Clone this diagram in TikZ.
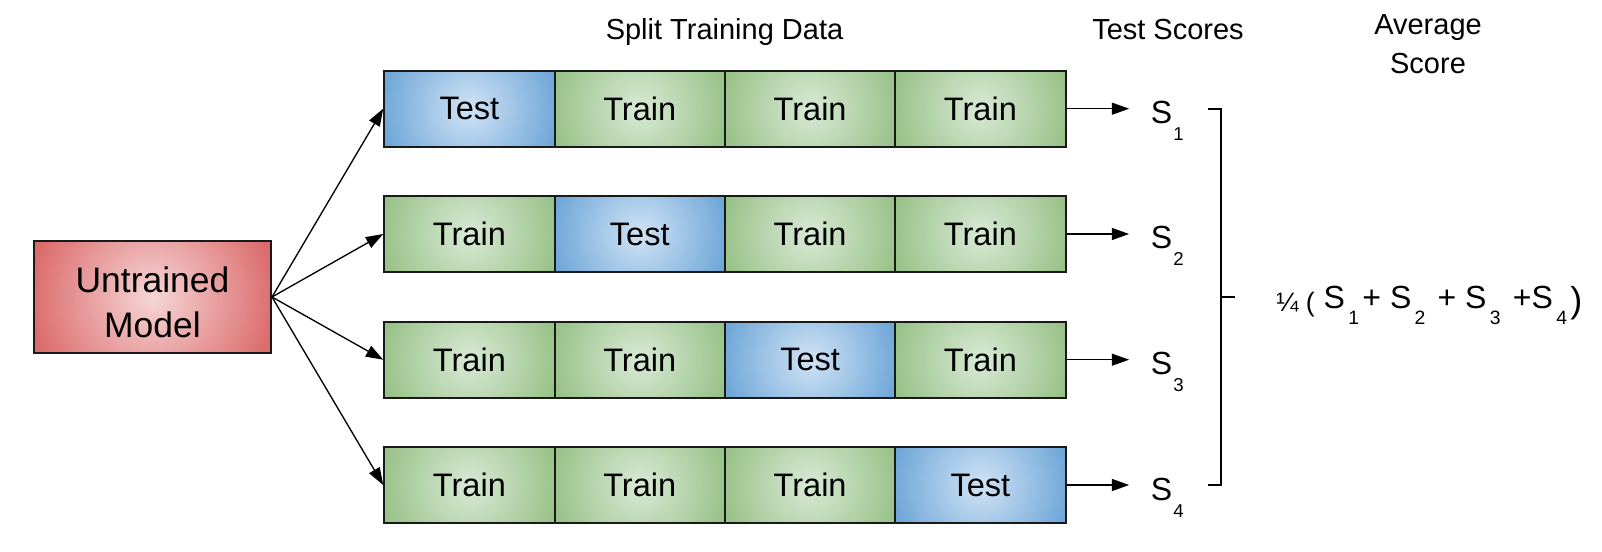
\documentclass[tikz,border=0pt]{standalone}
\usepackage{fontspec}
\setmainfont{Liberation Sans}
\usepackage{tikz}
\usetikzlibrary{arrows.meta}

\definecolor{trainin}{HTML}{D8EAD5}
\definecolor{trainout}{HTML}{99C289}
\definecolor{testin}{HTML}{D0E3F5}
\definecolor{testout}{HTML}{70A7D8}
\definecolor{modelin}{HTML}{F6D6D6}
\definecolor{modelout}{HTML}{DC6C6C}

% subscript of a score
\newcommand{\sx}[1]{\hspace{1pt}\raisebox{-12.75pt}{\fontsize{14}{16}\selectfont #1}\hspace{1pt}}
% subscript in the average
\newcommand{\ax}[1]{\hspace{2.5pt}\raisebox{-12.75pt}{\fontsize{14.5}{16}\selectfont #1}\hspace{2.5pt}}

\begin{document}
\begin{tikzpicture}[x=0.75pt,y=0.75pt,yscale=-1,xscale=1,
  cell/.style={draw=black!90, line width=1.5pt, minimum width=127.76pt, minimum height=57pt, inner sep=0pt, font=\fontsize{24.4}{29}\selectfont},
  glow/.style n args={3}{fill=#2, path picture={\shade[inner color=#1, outer color=#2] (path picture bounding box.center) circle (#3);}},
  train/.style={cell, glow={trainin}{trainout}{66pt}},
  test/.style={cell, glow={testin}{testout}{66pt}},
  arr/.style={-{Triangle[length=13pt,width=9pt]}, line width=1pt},
  brk/.style={line width=1.3pt},
  score/.style={inner sep=0pt, font=\fontsize{24}{29}\selectfont},
  head/.style={inner sep=0pt, font=\fontsize{21.75}{29.25}\selectfont}
]
\useasboundingbox (0,0) rectangle (1602,552);

% Model
\node[draw=black!90, line width=1.5pt, minimum width=177.75pt, minimum height=84pt, glow={modelin}{modelout}{92pt}, align=center, font=\fontsize{26.6}{33.75}\selectfont] (model) at (152.5,297) {\rule{0pt}{28pt}Untrained\\Model};

% Row 1
\node[test] (c11) at (469.4,108.7) {Test};
\node[train] (c12) at (639.7,108.7) {Train};
\node[train] (c13) at (810.1,108.7) {Train};
\node[train] (c14) at (980.4,108.7) {Train};
% Row 2
\node[train] (c21) at (469.4,234) {Train};
\node[test] (c22) at (639.7,234) {Test};
\node[train] (c23) at (810.1,234) {Train};
\node[train] (c24) at (980.4,234) {Train};
% Row 3
\node[train] (c31) at (469.4,359.7) {Train};
\node[train] (c32) at (639.7,359.7) {Train};
\node[test] (c33) at (810.1,359.7) {Test};
\node[train] (c34) at (980.4,359.7) {Train};
% Row 4
\node[train] (c41) at (469.4,485) {Train};
\node[train] (c42) at (639.7,485) {Train};
\node[train] (c43) at (810.1,485) {Train};
\node[test] (c44) at (980.4,485) {Test};

% Headers
\node[head, anchor=base] (split) at (724.5,39.3) {Split Training Data};
\node[head, anchor=base] (tests) at (1168,40) {Test Scores};
\node[head, anchor=north, align=center] (avg) at (1428,14) {Average\\Score};

% Scores
\node[score, anchor=base west] (s1) at (1150.5,123.7) {S\sx{1}};
\node[score, anchor=base west] (s2) at (1150.5,249) {S\sx{2}};
\node[score, anchor=base west] (s3) at (1150.5,374.7) {S\sx{3}};
\node[score, anchor=base west] (s4) at (1150.5,500) {S\sx{4}};

% Average
\node[score, anchor=base west] (avgf) at (1276,308) {\raisebox{-2.5pt}{\fontsize{20}{22}\selectfont ¼ (} S\ax{1}+ S\ax{2} + S\ax{3} +S\ax{4}\raisebox{-3pt}{\fontsize{27}{30}\selectfont )}};

% Model to folds
\draw[arr] (model.east) -- (c11.west);
\draw[arr] (model.east) -- (c21.west);
\draw[arr] (model.east) -- (c31.west);
\draw[arr] (model.east) -- (c41.west);

% Folds to scores
\draw[arr, shorten >=16pt] (c14.east) -- (c14.east -| s1.west);
\draw[arr, shorten >=16pt] (c24.east) -- (c24.east -| s2.west);
\draw[arr, shorten >=16pt] (c34.east) -- (c34.east -| s3.west);
\draw[arr, shorten >=16pt] (c44.east) -- (c44.east -| s4.west);

% Bracket
\coordinate (brtop) at (1208,108.7);
\coordinate (brbot) at (1208,485);
\coordinate (brmid) at (1221,297);
\coordinate (brtip) at (1235,297);
\draw[brk] (brtop) -| (brmid) |- (brbot);
\draw[brk] (brmid) -- (brtip);

\end{tikzpicture}
\end{document}
